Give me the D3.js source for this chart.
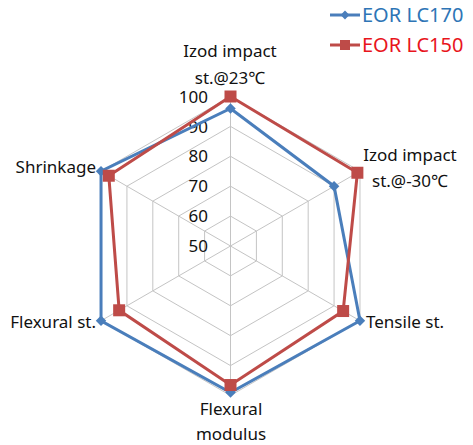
<!DOCTYPE html>
<html><head><meta charset="utf-8">
<script src="https://cdn.jsdelivr.net/npm/d3@7"></script>
<style>body{margin:0;background:#fff}svg{display:block}text{font-family:"Noto Sans",sans-serif}</style>
</head><body><svg id="c" width="473" height="445"></svg>
<script>
const categories = ["Izod impact|st.@23℃", "Izod impact|st.@-30℃", "Tensile st.", "Flexural|modulus", "Flexural st.", "Shrinkage"];
const seriesNames = ["EOR LC170", "EOR LC150"];
const lc170 = [96, 90, 100, 99, 100, 100];
const lc150 = [100, 99, 93.5, 96.5, 93, 97];
const ticks = [50, 60, 70, 80, 90, 100];

const svg = d3.select("#c");
const cx = 230.5, cy = 246, R = 149.5;
const r = d3.scaleLinear().domain([50, 100]).range([0, R]);
const n = categories.length;
const ang = i => -Math.PI / 2 + i * 2 * Math.PI / n;
const pt = (i, v) => [cx + r(v) * Math.cos(ang(i)), cy + r(v) * Math.sin(ang(i))];

const g = svg.append("g");
ticks.slice(1).forEach(t => {
  g.append("path")
    .attr("d", d3.line()(d3.range(n).map(i => pt(i, t))) + "Z")
    .attr("fill", "none").attr("stroke", "#c4c4c4").attr("stroke-width", 1);
});
d3.range(n).forEach(i => {
  const p = pt(i, 100);
  g.append("line").attr("x1", cx).attr("y1", cy).attr("x2", p[0]).attr("y2", p[1])
    .attr("stroke", "#c4c4c4").attr("stroke-width", 1);
});
ticks.forEach(t => {
  g.append("text").attr("x", 208).attr("y", cy - r(t)).attr("dy", "0.36em")
    .attr("text-anchor", "end").attr("font-size", 17).attr("fill", "#111").text(t);
});

const colors = ["#4a7ebb", "#be4b48"];
const data = [lc170, lc150];
data.forEach((vals, s) => {
  const pts = vals.map((v, i) => pt(i, v));
  svg.append("path").attr("d", d3.line()(pts) + "Z")
    .attr("fill", "none").attr("stroke", colors[s]).attr("stroke-width", 3).attr("stroke-linejoin", "miter");
  pts.forEach(p => {
    if (s === 0) {
      svg.append("path").attr("d", d3.symbol(d3.symbolDiamond2, 70)())
        .attr("transform", `translate(${p[0]},${p[1]})`).attr("fill", colors[s]);
    } else {
      svg.append("rect").attr("x", p[0] - 6).attr("y", p[1] - 6).attr("width", 12).attr("height", 12)
        .attr("fill", colors[s]);
    }
  });
});

// category labels (y = vertical centre of first line)
const labelPos = [
  {x: 230, y: 51, a: "middle", lh: 27},
  {x: 410, y: 155, a: "middle", lh: 26},
  {x: 366, y: 322, a: "start", lh: 25},
  {x: 231, y: 409, a: "middle", lh: 25},
  {x: 96, y: 322, a: "end", lh: 25},
  {x: 96, y: 167, a: "end", lh: 25}
];
categories.forEach((c, i) => {
  const lines = c.split("|");
  lines.forEach((l, k) => {
    svg.append("text").attr("x", labelPos[i].x).attr("y", labelPos[i].y + k * labelPos[i].lh)
      .attr("dy", "0.36em").attr("text-anchor", labelPos[i].a).attr("font-size", 17)
      .attr("fill", "#111").text(l);
  });
});

// legend
const legTextCol = ["#2e75b6", "#e8151c"];
seriesNames.forEach((name, s) => {
  const y = 15 + s * 30;
  svg.append("line").attr("x1", 330).attr("x2", 360).attr("y1", y).attr("y2", y)
    .attr("stroke", colors[s]).attr("stroke-width", 3);
  if (s === 0) {
    svg.append("path").attr("d", d3.symbol(d3.symbolDiamond2, 50)())
      .attr("transform", `translate(345,${y})`).attr("fill", colors[s]);
  } else {
    svg.append("rect").attr("x", 340).attr("y", y - 5).attr("width", 10).attr("height", 10).attr("fill", colors[s]);
  }
  svg.append("text").attr("x", 362).attr("y", y).attr("dy", "0.36em").attr("font-size", 20)
    .attr("fill", legTextCol[s]).text(name);
});
</script></body></html>
